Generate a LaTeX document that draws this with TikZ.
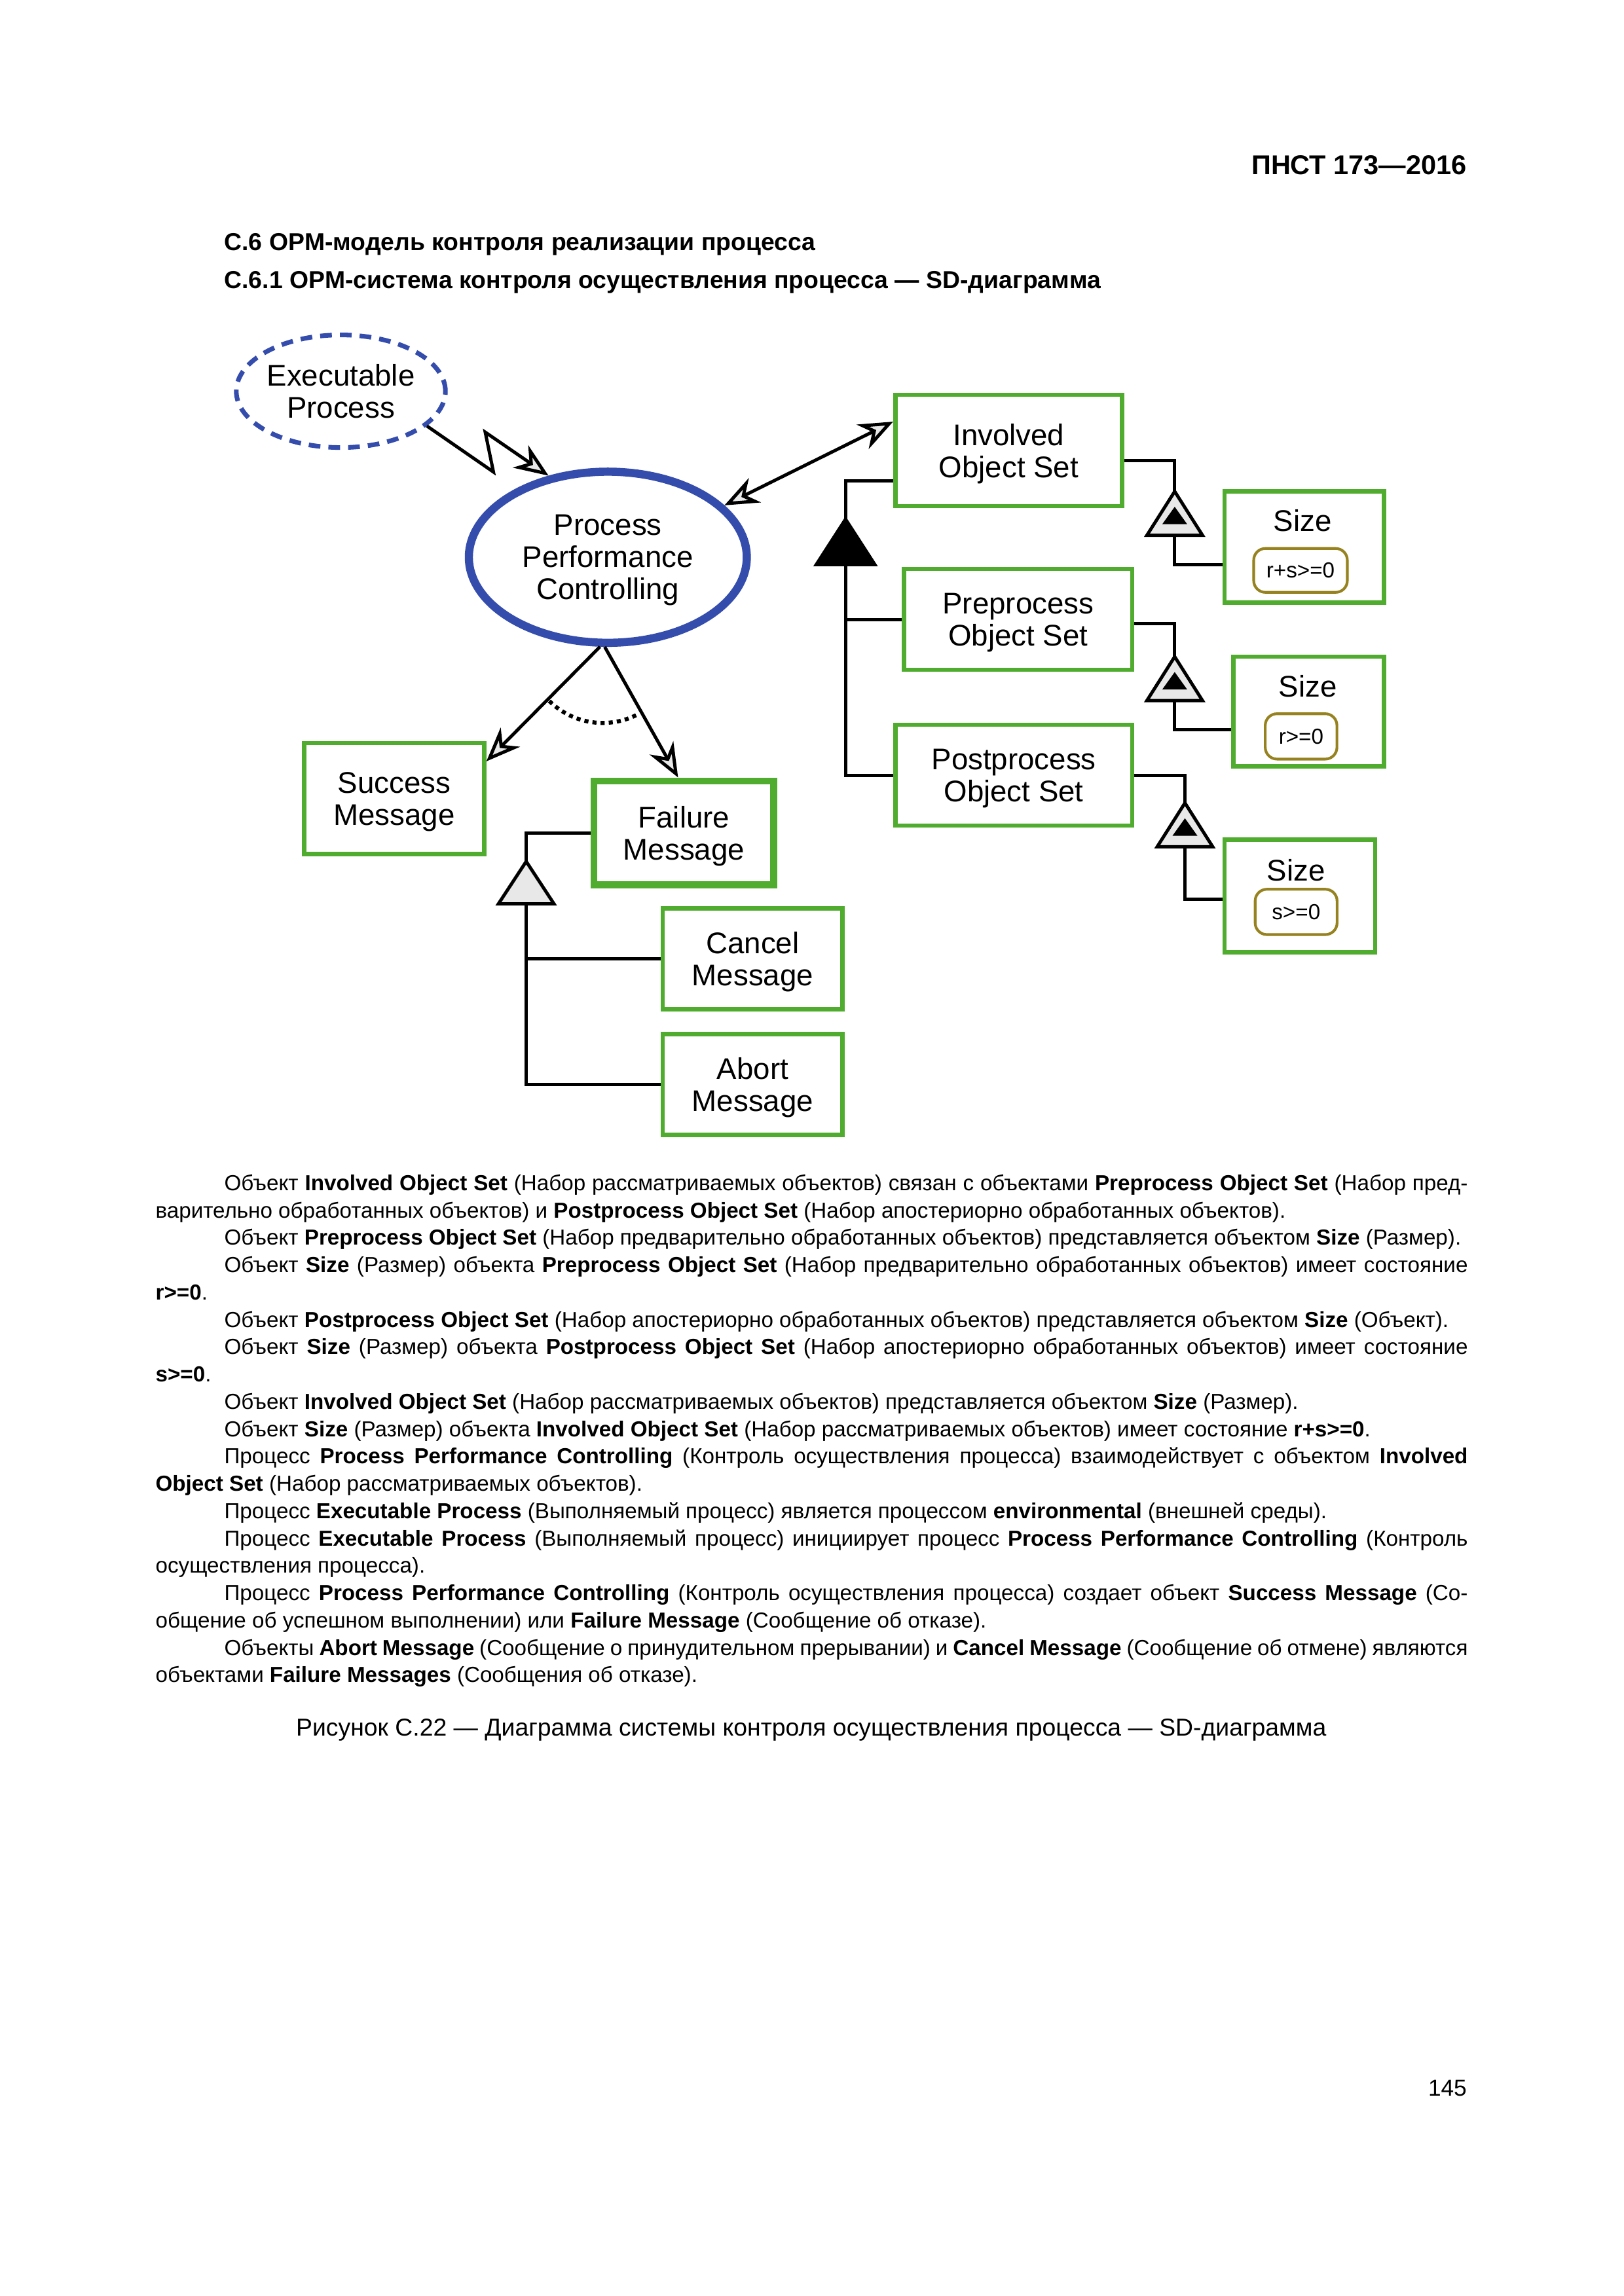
\documentclass[tikz,border=0pt]{standalone}
\usepackage{fontspec}
\setmainfont{Liberation Sans}
\usetikzlibrary{arrows.meta,shapes.geometric,calc}

\newlength{\dpx}
\setlength{\dpx}{0.0189189cm}
\definecolor{objgreen}{RGB}{80,172,46}
\definecolor{procblue}{RGB}{52,76,172}
\definecolor{stateolive}{RGB}{150,130,30}
\definecolor{tipgray}{RGB}{232,232,232}
\newcommand{\indentpar}{\par\noindent\hspace*{47\dpx}}

\tikzset{
  opmtip/.tip={Stealth[open, fill=tipgray, length=12.5pt, width=10pt, inset=4pt]},
  exhibit/.pic={
    \draw[line width=1.2pt, fill=tipgray] (0,0) -- (-19,30) -- (19,30) -- cycle;
    \fill[black] (0,10.5) -- (-8.5,22.4) -- (8.5,22.4) -- cycle;
  }
}

\begin{document}
\begin{tikzpicture}[x=1\dpx, y=-1\dpx,
    lbl/.style={font=\fontsize{11}{11.8}\selectfont, align=center},
    objbox/.style={draw=objgreen, line width=1.6pt, fill=white, lbl, inner sep=0pt, text depth=-1pt},
    procell/.style={ellipse, draw=procblue, line width=3pt, fill=white, lbl, inner sep=0pt, text depth=-1pt},
    envproc/.style={ellipse, draw=procblue, line width=1.7pt, dash pattern=on 8\dpx off 5.5\dpx, lbl, inner sep=0pt},
    statebox/.style={draw=stateolive, line width=1pt, rounded corners=8\dpx, font=\fontsize{8}{9}\selectfont, inner sep=0pt},
    link/.style={line width=1.2pt},
    res/.style={link, -opmtip},
    pagetext/.style={inner sep=0pt},
  ]
  \fill[white] (0,0) rectangle (1110,1569.86);
  \useasboundingbox (0,0) rectangle (1110,1569.86);

  % page head
  \node[pagetext, anchor=base east, font=\bfseries\fontsize{10}{12}\selectfont] (hdr) at (1003,119.4) {ПНСТ 173—2016};
  \node[pagetext, anchor=base west, font=\bfseries\fontsize{9}{11}\selectfont] (sec) at (153,171) {С.6 OPM-модель контроля реализации процесса};
  \node[pagetext, anchor=base west, font=\bfseries\fontsize{9}{11}\selectfont] (subsec) at (153,197) {С.6.1 OPM-система контроля осуществления процесса — SD-диаграмма};

  % processes
  \node[envproc, minimum width=139\dpx, minimum height=77\dpx] (exec) at (233,267.5) {Executable\\Process};
  \node[procell, minimum width=190\dpx, minimum height=117\dpx] (ppc) at (415.5,381) {Process\\Performance\\Controlling};

  % objects
  \node[objbox, minimum width=155\dpx, minimum height=76\dpx] (inv) at (689.5,308) {Involved\\Object Set};
  \node[objbox, minimum width=156\dpx, minimum height=69\dpx] (pre) at (696,423.5) {Preprocess\\Object Set};
  \node[objbox, minimum width=162\dpx, minimum height=69\dpx] (post) at (693,530) {Postprocess\\Object Set};
  \node[objbox, minimum width=123\dpx, minimum height=76\dpx] (succ) at (269.5,546) {Success\\Message};
  \node[objbox, line width=2.6pt, minimum width=123\dpx, minimum height=71\dpx] (fail) at (467.5,569.5) {Failure\\Message};
  \node[objbox, minimum width=123\dpx, minimum height=69\dpx] (canc) at (514.5,655.5) {Cancel\\Message};
  \node[objbox, minimum width=123\dpx, minimum height=69\dpx] (abrt) at (514.5,741.5) {Abort\\Message};

  % size objects with their states
  \node[objbox, minimum width=109\dpx, minimum height=76\dpx] (size1) at (891.5,374) {};
  \node[lbl] (size1lbl) at (890.5,356) {Size};
  \node[statebox, minimum width=64\dpx, minimum height=30\dpx] (st1) at (889,390) {r+s>=0};
  \node[objbox, minimum width=103\dpx, minimum height=75\dpx] (size2) at (894.5,486.5) {};
  \node[lbl] (size2lbl) at (894,469) {Size};
  \node[statebox, minimum width=49\dpx, minimum height=31\dpx] (st2) at (889.4,503.5) {r>=0};
  \node[objbox, minimum width=103\dpx, minimum height=77\dpx] (size3) at (888.5,612.5) {};
  \node[lbl] (size3lbl) at (886,595) {Size};
  \node[statebox, minimum width=56\dpx, minimum height=31\dpx] (st3) at (886,623.5) {s>=0};

  % invocation link (zigzag)
  \coordinate (zigA) at (337.3,322.7);
  \coordinate (zigB) at (331.7,295.5);
  \draw[res] (exec.-22) -- (zigA) -- (zigB) -- (ppc.126);

  % effect link
  \draw[link, opmtip-opmtip] (ppc.24.5) -- (inv.166.6);

  % result links with xor arc
  \draw[res] (ppc.265) -- (succ.22.4);
  \draw[res] (ppc.268) -- (fail.96);
  \draw[line width=1.5pt, dash pattern=on 1.5pt off 1.5pt] ($(ppc.south)+(-3.5,0)+(134.6:52)$) arc[start angle=134.6, end angle=61.4, radius=52];

  % aggregation
  \coordinate (aggtop) at (578,355);
  \draw[link] ($(inv.west)+(0,21)$) -| (aggtop);
  \draw[link] ($(aggtop)+(0,31)$) |- (pre.west);
  \draw[link] ($(aggtop)+(0,31)$) |- (post.west);
  \draw[link, fill=black] (aggtop) -- ++(-20,31) -- ++(40,0) -- cycle;

  % exhibition
  \coordinate (ex1) at (803,336);
  \coordinate (ex2) at (803,449);
  \coordinate (ex3) at (810,549);
  \draw[link] ($(inv.east)+(0,7)$) -| (ex1);
  \draw[link] ($(ex1)+(0,30)$) |- ($(size1.west)+(0,12)$);
  \draw[link] ($(pre.east)+(0,3)$) -| (ex2);
  \draw[link] ($(ex2)+(0,30)$) |- ($(size2.west)+(0,12.5)$);
  \draw[link] (post.east) -| (ex3);
  \draw[link] ($(ex3)+(0,30)$) |- ($(size3.west)+(0,2.5)$);
  \pic at (ex1) {exhibit};
  \pic at (ex2) {exhibit};
  \pic at (ex3) {exhibit};

  % specialization
  \coordinate (spec) at (359.7,589);
  \draw[link] (fail.west) -| (spec);
  \draw[link] ($(spec)+(0,29)$) |- (canc.west);
  \draw[link] ($(spec)+(0,29)$) |- (abrt.west);
  \draw[link, fill=tipgray] (spec) -- ++(-19,29) -- ++(38,0) -- cycle;

  % description
  \node[anchor=base west, text width=897\dpx, align=justify, inner sep=0pt,
        font=\fontsize{8}{10.06}\selectfont] (body) at (106,814) {\tolerance=9999\hyphenpenalty=10000\exhyphenpenalty=10000
    \noindent\hspace*{47\dpx}Объект \textbf{Involved Object Set} (Набор рассматриваемых объектов) связан с объектами \textbf{Preprocess Object Set} (Набор пред-\linebreak варительно обработанных объектов) и \textbf{Postprocess Object Set} (Набор апостериорно обработанных объектов).
    \indentpar Объект \textbf{Preprocess Object Set} (Набор предварительно обработанных объектов) представляется объектом \textbf{Size} (Размер).
    \indentpar Объект \textbf{Size} (Размер) объекта \textbf{Preprocess Object Set} (Набор предварительно обработанных объектов) имеет состояние\linebreak \textbf{r>=0}.
    \indentpar Объект \textbf{Postprocess Object Set} (Набор апостериорно обработанных объектов) представляется объектом \textbf{Size} (Объект).
    \indentpar Объект \textbf{Size} (Размер) объекта \textbf{Postprocess Object Set} (Набор апостериорно обработанных объектов) имеет состояние\linebreak \textbf{s>=0}.
    \indentpar Объект \textbf{Involved Object Set} (Набор рассматриваемых объектов) представляется объектом \textbf{Size} (Размер).
    \indentpar Объект \textbf{Size} (Размер) объекта \textbf{Involved Object Set} (Набор рассматриваемых объектов) имеет состояние \textbf{r+s>=0}.
    \indentpar Процесс \textbf{Process Performance Controlling} (Контроль осуществления процесса) взаимодействует с объектом \textbf{Involved}\linebreak \textbf{Object Set} (Набор рассматриваемых объектов).
    \indentpar Процесс \textbf{Executable Process} (Выполняемый процесс) является процессом \textbf{environmental} (внешней среды).
    \indentpar Процесс \textbf{Executable Process} (Выполняемый процесс) инициирует процесс \textbf{Process Performance Controlling} (Контроль\linebreak осуществления процесса).
    \indentpar Процесс \textbf{Process Performance Controlling} (Контроль осуществления процесса) создает объект \textbf{Success Message} (Со-\linebreak общение об успешном выполнении) или \textbf{Failure Message} (Сообщение об отказе).
    \indentpar Объекты \textbf{Abort Message} (Сообщение о принудительном прерывании) и \textbf{Cancel Message} (Сообщение об отмене) являются\linebreak объектами \textbf{Failure Messages} (Сообщения об отказе).};

  \node[pagetext, anchor=base, font=\fontsize{9}{11}\selectfont] (caption) at (554.5,1187) {Рисунок С.22 — Диаграмма системы контроля осуществления процесса — SD-диаграмма};
  \node[pagetext, anchor=base east, font=\fontsize{8.5}{10}\selectfont] (pageno) at (1003,1433) {145};
\end{tikzpicture}
\end{document}
